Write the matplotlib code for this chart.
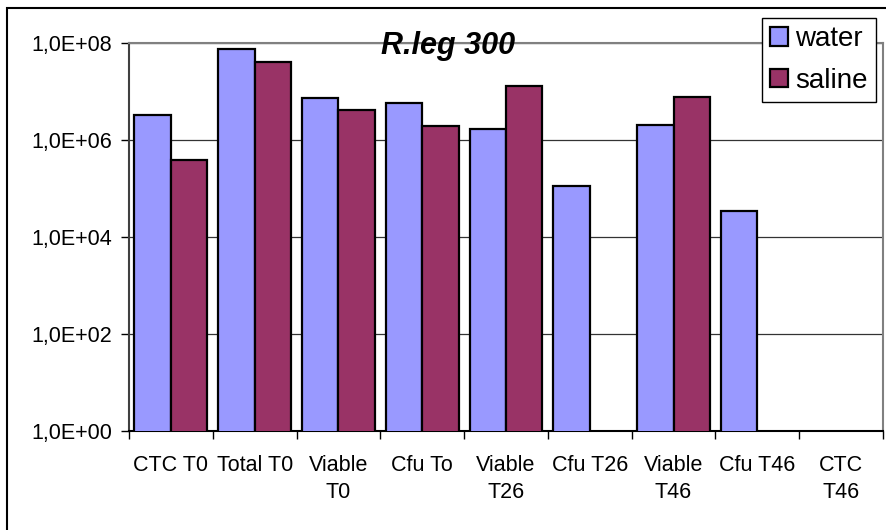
import matplotlib
matplotlib.use('Agg')
import matplotlib.pyplot as plt
from matplotlib.patches import Rectangle
import numpy as np

plt.rcParams['font.family'] = ['Liberation Sans', 'DejaVu Sans']

categories = ['CTC T0', 'Total T0', 'Viable\nT0', 'Cfu To', 'Viable\nT26',
              'Cfu T26', 'Viable\nT46', 'Cfu T46', 'CTC\nT46']
water = [3.3e6, 7.5e7, 7.4e6, 5.7e6, 1.65e6, 1.1e5, 2.0e6, 3.5e4, np.nan]
saline = [3.9e5, 4.1e7, 4.1e6, 1.9e6, 1.3e7, np.nan, 7.8e6, np.nan, np.nan]
yticks = [1e0, 1e2, 1e4, 1e6, 1e8]
ytick_labels = ['1,0E+00', '1,0E+02', '1,0E+04', '1,0E+06', '1,0E+08']

fig = plt.figure(figsize=(8.86, 5.30), dpi=100)
ax = fig.add_axes([129/886, 1-431/530, (883-129)/886, (431-43)/530])

x = np.arange(len(categories))
w = 0.435
water_a = np.array(water)
saline_a = np.array(saline)
mw = ~np.isnan(water_a)
ms = ~np.isnan(saline_a)
ax.bar(x[mw] - w/2, water_a[mw], w, color='#9999FF', edgecolor='black', linewidth=1.6, label='water', zorder=3)
ax.bar(x[ms] + w/2, saline_a[ms], w, color='#993366', edgecolor='black', linewidth=1.6, label='saline', zorder=3)

ax.set_yscale('log')
ax.set_ylim(1, 1e8)
ax.set_xlim(-0.5, len(categories) - 0.5)
ax.set_yticks(yticks)
ax.set_yticklabels(ytick_labels)
ax.minorticks_off()
ax.yaxis.grid(True, color='#333333', linewidth=0.9, zorder=0)

ax.set_xticks(x)
ax.set_xticklabels(categories, linespacing=1.4)
ax.set_xticks(np.arange(len(categories) + 1) - 0.5, minor=True)
ax.tick_params(axis='x', which='major', length=0, pad=17, labelsize=15.5)
ax.tick_params(axis='x', which='minor', length=6, width=1, direction='out')
ax.tick_params(axis='y', length=6, width=1, pad=6, labelsize=15.5)

for s in ['top', 'right']:
    ax.spines[s].set_color('#808080')
    ax.spines[s].set_linewidth(1.5)
ax.spines['left'].set_color('#404040')
ax.spines['left'].set_linewidth(1.5)
ax.spines['bottom'].set_color('black')
ax.spines['bottom'].set_linewidth(1.5)

fig.text(448/886, 1-46/530, 'R.leg 300', fontsize=22, fontweight='bold',
         fontstyle='italic', ha='center', va='center')

leg = fig.legend(loc='upper left', bbox_to_anchor=(762/886, 1-18/530), fontsize=20,
                 frameon=True, fancybox=False, edgecolor='black', framealpha=1,
                 handlelength=0.65, handleheight=0.65, handletextpad=0.25,
                 labelspacing=0.55, borderpad=0.3, borderaxespad=0)
leg.get_frame().set_linewidth(1.0)

fig.patches.append(Rectangle((7/886, -0.1), 2, 1 - 8/530 + 0.1, transform=fig.transFigure,
                             fill=False, edgecolor='black', linewidth=1.5))

fig.savefig('out.png', dpi=100)
